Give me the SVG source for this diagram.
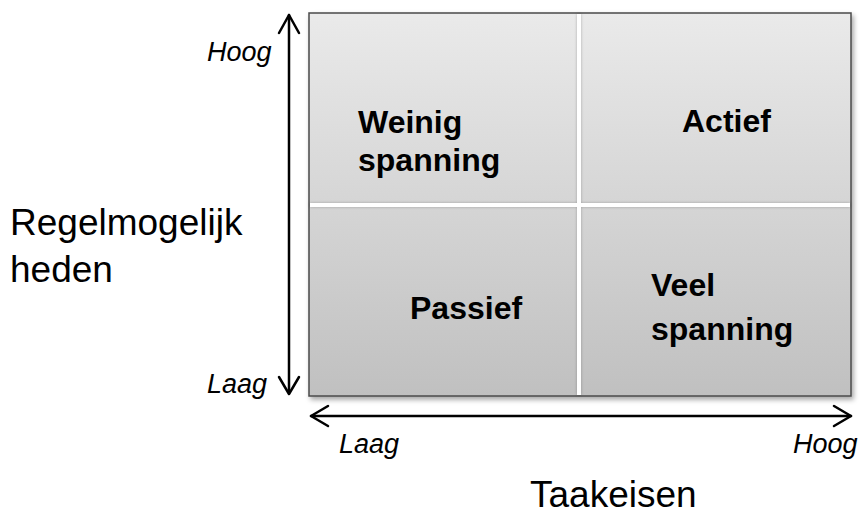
<svg xmlns="http://www.w3.org/2000/svg" width="861" height="518" viewBox="0 0 861 518">
<style>
.reg{font-family:"Liberation Sans",Arial,sans-serif;font-size:37px;fill:#000}
.it{font-family:"Liberation Sans",Arial,sans-serif;font-size:27px;font-style:italic;fill:#000}
.bd{font-family:"Liberation Sans",Arial,sans-serif;font-size:32px;font-weight:bold;fill:#000}
.ax{stroke:#000;stroke-width:2.5;fill:none;stroke-linecap:round;stroke-linejoin:round}
.div{stroke:#fff;stroke-width:4}
</style>
<defs>
<linearGradient id="g" x1="0" y1="0" x2="0" y2="1">
<stop offset="0" stop-color="#eaeaea"/>
<stop offset="1" stop-color="#c0c0c0"/>
</linearGradient>
<filter id="sh" x="-5%" y="-5%" width="115%" height="115%">
<feDropShadow dx="2" dy="3" stdDeviation="2.5" flood-color="#000" flood-opacity="0.35"/>
</filter>
<filter id="dsh" x="-50%" y="-50%" width="200%" height="200%">
<feDropShadow dx="0" dy="0" stdDeviation="1.5" flood-color="#000" flood-opacity="0.25"/>
</filter>
</defs>
<g id="matrix">
<rect x="309" y="13" width="542" height="383" fill="url(#g)" stroke="#4a4a4a" stroke-width="1.5" filter="url(#sh)"/>
<g filter="url(#dsh)">
<line class="div" x1="579" y1="14" x2="579" y2="395"/>
<line class="div" x1="310" y1="205" x2="850" y2="205"/>
</g>
</g>
<g id="connectors">
<line class="ax" x1="289" y1="15" x2="289" y2="393"/>
<polyline class="ax" points="279,33 289,15 299,33"/>
<polyline class="ax" points="279,377 289,394 299,377"/>
<line class="ax" x1="311" y1="416" x2="851" y2="416"/>
<polyline class="ax" points="328,406 311,416 328,426"/>
<polyline class="ax" points="834,406 851,416 834,426"/>
</g>
<g id="q-weinig"><text class="bd" x="358" y="133">Weinig</text><text class="bd" x="358" y="171">spanning</text></g>
<g id="q-actief"><text class="bd" x="682" y="132">Actief</text></g>
<g id="q-passief"><text class="bd" x="410" y="319">Passief</text></g>
<g id="q-veel"><text class="bd" x="651" y="296">Veel</text><text class="bd" x="651" y="340">spanning</text></g>
<g id="y-label"><text class="reg" x="10" y="235">Regelmogelijk</text><text class="reg" x="10" y="282">heden</text></g>
<g id="x-label"><text class="reg" x="530" y="507" font-size="36">Taakeisen</text></g>
<g id="y-hoog"><text class="it" x="207" y="61">Hoog</text></g>
<g id="y-laag"><text class="it" x="207" y="393">Laag</text></g>
<g id="x-laag"><text class="it" x="339" y="453">Laag</text></g>
<g id="x-hoog"><text class="it" x="793" y="453">Hoog</text></g>
</svg>
